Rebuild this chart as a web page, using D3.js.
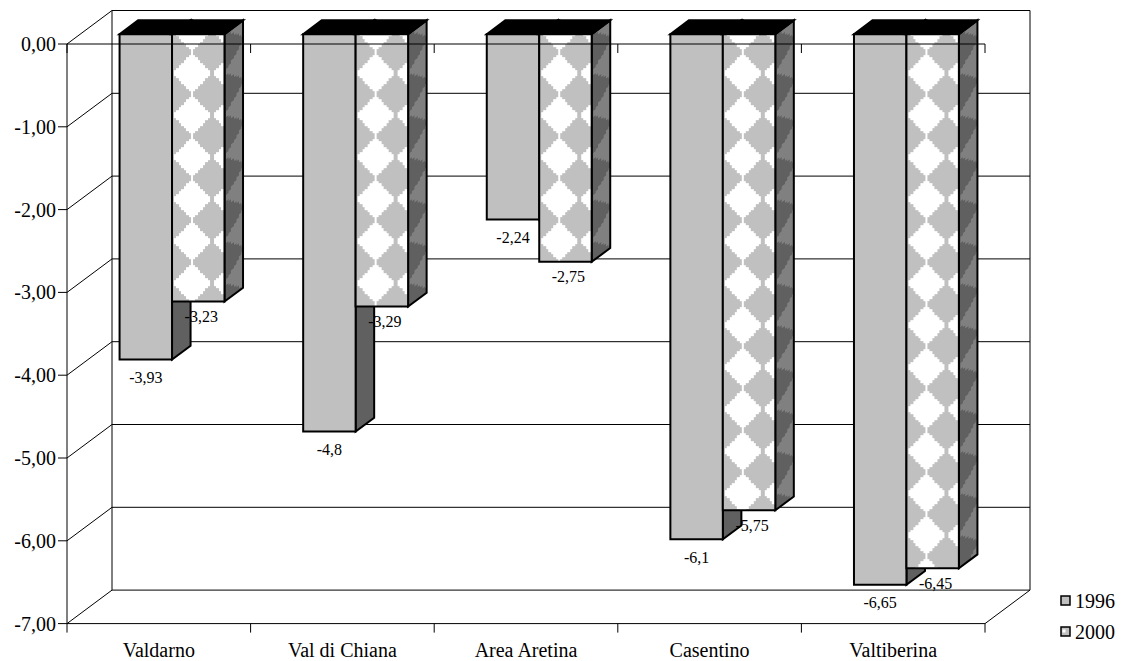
<!DOCTYPE html>
<html>
<head>
<meta charset="utf-8">
<script src="https://cdn.jsdelivr.net/npm/d3@7"></script>
<style>
  body { margin: 0; background: #fff; }
  svg { display: block; }
</style>
</head>
<body>
<svg id="chart" width="1125" height="661" font-family="'Liberation Serif', 'Times New Roman', Times, serif"></svg>
<script>
// Data
const categories = ["Valdarno", "Val di Chiana", "Area Aretina", "Casentino", "Valtiberina"];
const seriesNames = ["1996", "2000"];
const values1996 = [-3.93, -4.8, -2.24, -6.1, -6.65];
const values2000 = [-3.23, -3.29, -2.75, -5.75, -6.45];
const yTickValues = [0, -1, -2, -3, -4, -5, -6, -7];

const SERIF = "'Liberation Serif', 'Times New Roman', Times, serif";
const svg = d3.select("#chart");
const defs = svg.append("defs");

// Scales (front plane of the 3D box)
const x = d3.scaleBand().domain(categories).range([67, 985]);
const inner = d3.scaleBand().domain(seriesNames).range([0, x.bandwidth()])
  .paddingInner(0).paddingOuter(0.75);
const y = d3.scaleLinear().domain([-7, 0]).range([623.6, 44]);

// Oblique projection: depth z in [0,1] shifts up and to the right
const DX = 45, DY = -33.5;
const P = (px, py, z) => [px + DX * z, py + DY * z];
const Z0 = 0.294, Z1 = 0.706;
const fmtAxis = v => d3.format(".2f")(v).replace(".", ",").replace("−", "-");
const fmtLabel = v => String(v).replace(".", ",");

const line = (g, a, b, w = 1, c = "#000") =>
  g.append("line").attr("x1", a[0]).attr("y1", a[1]).attr("x2", b[0]).attr("y2", b[1])
    .attr("stroke", c).attr("stroke-width", w);
const txt = (g) => g.append("text").attr("font-family", SERIF).attr("fill", "#000");

// ---- walls, floor, gridlines
const walls = svg.append("g");
const [xL, xR] = x.range();
yTickValues.forEach(v => {
  line(walls, P(xL, y(v), 1), P(xR, y(v), 1));   // back wall
  line(walls, P(xL, y(v), 0), P(xL, y(v), 1));   // side wall
});
line(walls, P(xL, y(0), 1), P(xL, y(-7), 1));
line(walls, P(xR, y(0), 1), P(xR, y(-7), 1));
line(walls, P(xL, y(-7), 0), P(xR, y(-7), 0));
line(walls, P(xR, y(-7), 0), P(xR, y(-7), 1));

// ---- stepped diamond texture tiles (one staircase outline per tile)
const TW = 40, TH = 42, N = 8;
function diamondTile(pat, bg, fg) {
  pat.append("rect").attr("width", TW).attr("height", TH).attr("fill", bg);
  const cw = TW / 2 / N, ch = TH / 2 / N, cx = TW / 2, cy = TH / 2;
  const hw = i => (N - 0.7 - i) * cw;
  const right = [];
  for (let i = N - 1; i >= 0; i--) right.push([cx + hw(i), cy - (i + 1) * ch], [cx + hw(i), cy - i * ch]);
  for (let i = 0; i < N; i++) right.push([cx + hw(i), cy + i * ch], [cx + hw(i), cy + (i + 1) * ch]);
  const left = right.slice().reverse().map(([px, py]) => [2 * cx - px, py]);
  pat.append("path").attr("d", "M" + right.concat(left).map(p => p.join(",")).join("L") + "Z")
    .attr("fill", fg).attr("shape-rendering", "crispEdges");
}

// ---- bars
const bars = svg.append("g");
const bw = inner.bandwidth();
const poly = pts => pts.map(p => p.join(",")).join(" ");
const angle = Math.atan2((Z1 - Z0) * DY, (Z1 - Z0) * DX) * 180 / Math.PI;

categories.forEach((cat, i) => {
  [["1996", values1996[i]], ["2000", values2000[i]]].forEach(([s, v]) => {
    const x0 = x(cat) + inner(s), x1 = x0 + bw;
    const yt = y(0), yb = y(v);
    let frontFill = "#c0c0c0", sideFill = "#606060";
    if (s === "2000") {
      const f0 = P(x0, yt, Z0);
      const pf = defs.append("pattern").attr("id", "tex-front-" + i)
        .attr("patternUnits", "userSpaceOnUse").attr("width", TW).attr("height", TH)
        .attr("x", f0[0]).attr("y", f0[1] + 18);
      diamondTile(pf, "#c0c0c0", "#ffffff");
      const s0 = P(x1, yt, Z0);
      const ps = defs.append("pattern").attr("id", "tex-side-" + i)
        .attr("patternUnits", "userSpaceOnUse").attr("width", TW).attr("height", TH)
        .attr("patternTransform", `translate(${s0[0]},${s0[1] + 18}) skewY(${angle})`);
      diamondTile(ps, "#606060", "#808080");
      frontFill = `url(#tex-front-${i})`;
      sideFill = `url(#tex-side-${i})`;
    }
    const common = el => el.attr("stroke", "#000").attr("stroke-width", 2)
      .attr("stroke-linejoin", "miter");
    common(bars.append("polygon").attr("fill", sideFill)
      .attr("points", poly([P(x1, yt, Z0), P(x1, yt, Z1), P(x1, yb, Z1), P(x1, yb, Z0)])));
    common(bars.append("polygon").attr("fill", "#000")
      .attr("points", poly([P(x0, yt, Z0), P(x1, yt, Z0), P(x1, yt, Z1), P(x0, yt, Z1)])));
    common(bars.append("polygon").attr("fill", frontFill)
      .attr("points", poly([P(x0, yt, Z0), P(x1, yt, Z0), P(x1, yb, Z0), P(x0, yb, Z0)])));
  });
});

// ---- front axes
const axes = svg.append("g");
line(axes, [xL, y(0)], [xR, y(0)]);
line(axes, [xL, y(0)], [xL, y(-7)]);
const bounds = categories.map(c => x(c)).concat([xR]);
bounds.forEach(b => {
  line(axes, [b, y(0)], [b, y(0) + 9]);
  line(axes, [b, y(-7)], [b, y(-7) + 9]);
});
yTickValues.forEach(v => {
  line(axes, [xL - 9, y(v)], [xL, y(v)]);
  txt(axes).attr("x", xL - 11).attr("y", y(v)).attr("dy", "0.35em")
    .attr("text-anchor", "end").attr("font-size", 20).text(fmtAxis(v));
});
categories.forEach(c => {
  txt(axes).attr("x", x(c) + x.bandwidth() / 2).attr("y", 650).attr("dy", "0.35em")
    .attr("text-anchor", "middle").attr("font-size", 20).text(c);
});

// ---- data labels
const labels = svg.append("g");
categories.forEach((cat, i) => {
  [["1996", values1996[i], 0, 18], ["2000", values2000[i], 3, 15]].forEach(([s, v, ox, oy]) => {
    const cx = x(cat) + inner(s) + bw / 2;
    const p = P(cx, y(v), Z0);
    txt(labels).attr("x", p[0] + ox).attr("y", p[1] + oy).attr("dy", "0.35em")
      .attr("text-anchor", "middle").attr("font-size", 16).text(fmtLabel(v));
  });
});

// ---- legend
const legend = svg.append("g");
const legY = [601, 632];
seriesNames.forEach((s, k) => {
  const ly = legY[k];
  legend.append("rect").attr("x", 1061).attr("y", ly - 5).attr("width", 9).attr("height", 9)
    .attr("fill", "#c0c0c0").attr("stroke", "#000").attr("stroke-width", 1.5);
  if (s === "2000") {
    legend.append("rect").attr("x", 1062.5).attr("y", ly - 2.5).attr("width", 3).attr("height", 3)
      .attr("fill", "#fff");
  }
  txt(legend).attr("x", 1075).attr("y", ly).attr("dy", "0.35em")
    .attr("font-size", 20).text(s);
});
</script>
</body>
</html>
